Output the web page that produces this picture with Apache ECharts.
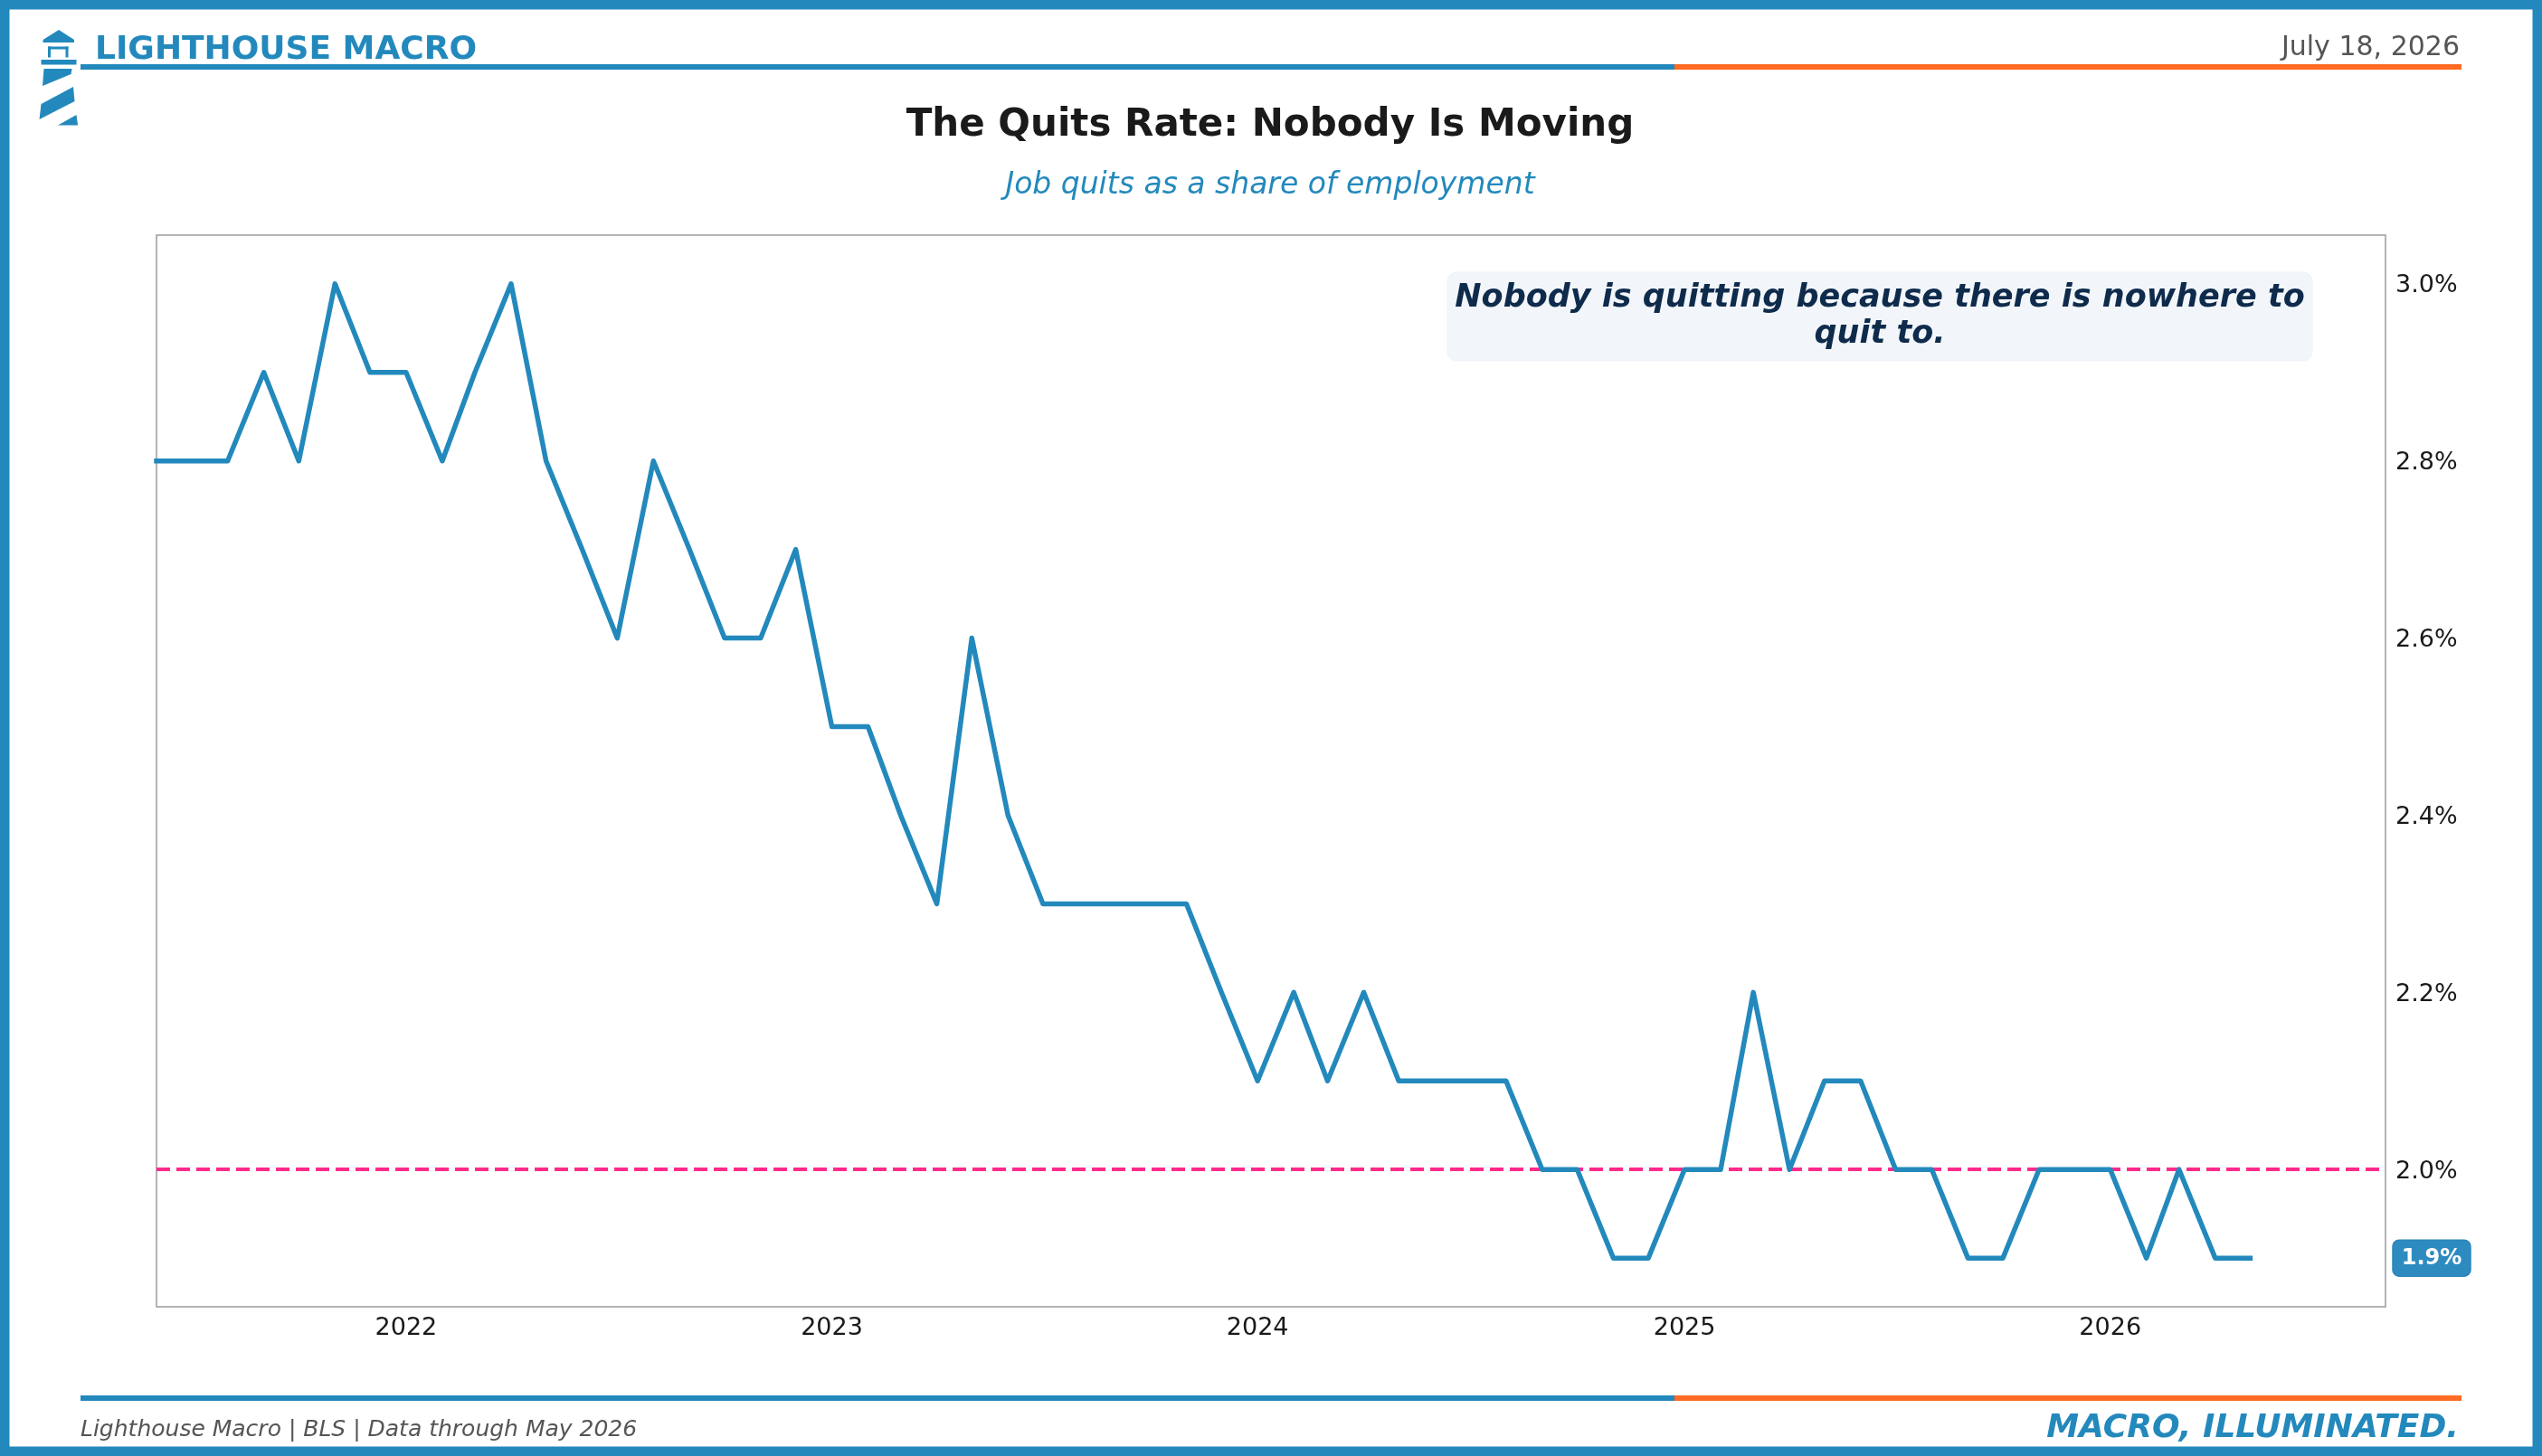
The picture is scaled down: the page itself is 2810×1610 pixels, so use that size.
<!DOCTYPE html>
<html>
<head>
<meta charset="utf-8">
<title>The Quits Rate: Nobody Is Moving</title>
<script src="https://cdn.jsdelivr.net/npm/echarts@6/dist/echarts.min.js"></script>
<style>
  html, body { margin: 0; padding: 0; background: #ffffff; }
  #chart { width: 2810px; height: 1610px; }
</style>
</head>
<body>
<div id="chart"></div>
<script>
// 月度数据：JOLTS 离职率（%）
const months = [
    '2021-06-01', '2021-07-01', '2021-08-01', '2021-09-01', '2021-10-01', '2021-11-01', '2021-12-01',
    '2022-01-01', '2022-02-01', '2022-03-01', '2022-04-01', '2022-05-01', '2022-06-01',
    '2022-07-01', '2022-08-01', '2022-09-01', '2022-10-01', '2022-11-01', '2022-12-01',
    '2023-01-01', '2023-02-01', '2023-03-01', '2023-04-01', '2023-05-01', '2023-06-01',
    '2023-07-01', '2023-08-01', '2023-09-01', '2023-10-01', '2023-11-01', '2023-12-01',
    '2024-01-01', '2024-02-01', '2024-03-01', '2024-04-01', '2024-05-01', '2024-06-01',
    '2024-07-01', '2024-08-01', '2024-09-01', '2024-10-01', '2024-11-01', '2024-12-01',
    '2025-01-01', '2025-02-01', '2025-03-01', '2025-04-01', '2025-05-01', '2025-06-01',
    '2025-07-01', '2025-08-01', '2025-09-01', '2025-10-01', '2025-11-01', '2025-12-01',
    '2026-01-01', '2026-02-01', '2026-03-01', '2026-04-01', '2026-05-01'
];
const quitsRate = [
    2.8, 2.8, 2.8, 2.9, 2.8, 3.0, 2.9,
    2.9, 2.8, 2.9, 3.0, 2.8, 2.7,
    2.6, 2.8, 2.7, 2.6, 2.6, 2.7,
    2.5, 2.5, 2.4, 2.3, 2.6, 2.4,
    2.3, 2.3, 2.3, 2.3, 2.3, 2.2,
    2.1, 2.2, 2.1, 2.2, 2.1, 2.1,
    2.1, 2.1, 2.0, 2.0, 1.9, 1.9,
    2.0, 2.0, 2.2, 2.0, 2.1, 2.1,
    2.0, 2.0, 1.9, 1.9, 2.0, 2.0,
    2.0, 1.9, 2.0, 1.9, 1.9
];
const referenceLevel = 2.0;

// 刻度
const xTickDates = ['2022-01-01', '2023-01-01', '2024-01-01', '2025-01-01', '2026-01-01'];
const yTickValues = [2.0, 2.2, 2.4, 2.6, 2.8, 3.0];
const xRange = ['2021-06-01', '2026-08-25'];

const BLUE = '#2389bc';
const ORANGE = '#ff6a24';
const PINK = '#ff2a8a';
const FONT = 'DejaVu Sans';

// 日期字符串转本地时间戳
function toTime(s) {
    const p = s.split('-').map(Number);
    return new Date(p[0], p[1] - 1, p[2]).getTime();
}

const chart = echarts.init(document.getElementById('chart'), null, { renderer: 'canvas' });

const seriesData = months.map((m, i) => [toTime(m), quitsRate[i]]);
const xTickValues = xTickDates.map(toTime);

const option = {
    backgroundColor: '#ffffff',
    animation: false,
    grid: {
        left: 173,
        right: 173,
        top: 260,
        bottom: 165,
        show: true,
        borderColor: '#9c9c9c',
        borderWidth: 1.5,
        backgroundColor: 'transparent',
        outerBoundsMode: 'none'
    },
    xAxis: {
        type: 'value',
        min: toTime(xRange[0]),
        max: toTime(xRange[1]),
        axisLine: { show: false },
        axisTick: { show: false, customValues: xTickValues },
        splitLine: { show: false },
        axisLabel: {
            customValues: xTickValues,
            formatter: v => String(new Date(v).getFullYear()),
            color: '#1a1a1a',
            fontFamily: FONT,
            fontSize: 27,
            margin: 10
        }
    },
    yAxis: {
        type: 'value',
        position: 'right',
        min: 1.845,
        max: 3.055,
        axisLine: { show: false },
        axisTick: { show: false, customValues: yTickValues },
        splitLine: { show: false },
        axisLabel: {
            customValues: yTickValues,
            formatter: v => v.toFixed(1) + '%',
            color: '#1a1a1a',
            fontFamily: FONT,
            fontSize: 27,
            margin: 11,
            verticalAlign: 'top',
            padding: [-11, 0, 0, 0]
        }
    },
    series: [
        {
            name: 'Quits Rate',
            type: 'line',
            data: seriesData,
            showSymbol: false,
            z: 3,
            lineStyle: { color: BLUE, width: 5.5, join: 'round', cap: 'square' },
            markLine: {
                silent: true,
                symbol: ['none', 'none'],
                z: 2,
                label: { show: false },
                lineStyle: { color: PINK, width: 4, type: [15, 7] },
                data: [{ yAxis: referenceLevel }]
            }
        }
    ]
};

chart.setOption(option);

// 最新值标签：按坐标轴换算位置
const lastValue = quitsRate[quitsRate.length - 1];
const badgeY = chart.convertToPixel({ yAxisIndex: 0 }, lastValue);

function textEl(x, y, text, size, color, weight, style, align) {
    return {
        type: 'text',
        x: x,
        y: y,
        z: 10,
        style: {
            text: text,
            fill: color,
            font: `${style || 'normal'} ${weight || 'normal'} ${size}px "${FONT}"`,
            align: align || 'left',
            verticalAlign: 'middle'
        }
    };
}

const graphics = [
    // 外框
    {
        type: 'rect', z: 20,
        shape: { x: 5.25, y: 5.25, width: 2799.5, height: 1599.5 },
        style: { fill: 'none', stroke: BLUE, lineWidth: 10.5 }
    },
    // 灯塔图标
    { type: 'polygon', z: 10, shape: { points: [[65, 33], [82, 44], [82, 47], [47.5, 47], [47.5, 44]] }, style: { fill: BLUE } },
    { type: 'rect', z: 10, shape: { x: 53, y: 51.5, width: 22.5, height: 3 }, style: { fill: BLUE } },
    { type: 'rect', z: 10, shape: { x: 53, y: 51.5, width: 3, height: 12 }, style: { fill: BLUE } },
    { type: 'rect', z: 10, shape: { x: 72.5, y: 51.5, width: 3, height: 12 }, style: { fill: BLUE } },
    { type: 'rect', z: 10, shape: { x: 45.5, y: 66, width: 39, height: 5.5 }, style: { fill: BLUE } },
    { type: 'polygon', z: 10, shape: { points: [[48.5, 76], [79.5, 76], [78.5, 82], [47, 95]] }, style: { fill: BLUE } },
    { type: 'polygon', z: 10, shape: { points: [[45.5, 115], [81, 96], [82.5, 112], [43.5, 132]] }, style: { fill: BLUE } },
    { type: 'polygon', z: 10, shape: { points: [[64, 138.5], [84.5, 127], [86, 138.5]] }, style: { fill: BLUE } },

    // 页眉
    textEl(105, 56, 'LIGHTHOUSE MACRO', 36, BLUE, 'bold'),
    textEl(2719, 53, 'July 18, 2026', 30, '#555555', 'normal', 'normal', 'right'),
    { type: 'rect', z: 10, shape: { x: 89, y: 71, width: 1762, height: 6 }, style: { fill: BLUE } },
    { type: 'rect', z: 10, shape: { x: 1851, y: 71, width: 870, height: 6 }, style: { fill: ORANGE } },

    // 标题
    textEl(1404, 139, 'The Quits Rate: Nobody Is Moving', 42, '#1a1a1a', 'bold', 'normal', 'center'),
    textEl(1404, 205, 'Job quits as a share of employment', 33, BLUE, 'normal', 'italic', 'center'),

    // 注释框
    {
        type: 'rect', z: 8,
        shape: { x: 1600, y: 301, width: 956, height: 98, r: 10 },
        style: { fill: '#f2f6fa', stroke: '#eef3f8', lineWidth: 1 }
    },
    {
        type: 'text', z: 10,
        x: 2078, y: 350,
        style: {
            text: 'Nobody is quitting because there is nowhere to\nquit to.',
            fill: '#0f2b4c',
            font: `italic bold 35px "${FONT}"`,
            align: 'center',
            verticalAlign: 'middle',
            lineHeight: 40
        }
    },

    // 最新值标签
    {
        type: 'rect', z: 10,
        shape: { x: 2645, y: badgeY - 20, width: 86, height: 40, r: 7 },
        style: { fill: '#2e8bc0', stroke: '#2a86bb', lineWidth: 1.5 }
    },
    textEl(2688, badgeY + 1, lastValue.toFixed(1) + '%', 24, '#ffffff', 'bold', 'normal', 'center'),

    // 页脚
    { type: 'rect', z: 10, shape: { x: 89, y: 1543, width: 1762, height: 6 }, style: { fill: BLUE } },
    { type: 'rect', z: 10, shape: { x: 1851, y: 1543, width: 870, height: 6 }, style: { fill: ORANGE } },
    textEl(89, 1581, 'Lighthouse Macro | BLS | Data through May 2026', 25, '#555555', 'normal', 'italic'),
    textEl(2718, 1580, 'MACRO, ILLUMINATED.', 36, BLUE, 'bold', 'italic', 'right')
];

chart.setOption({ graphic: graphics });
</script>
</body>
</html>
